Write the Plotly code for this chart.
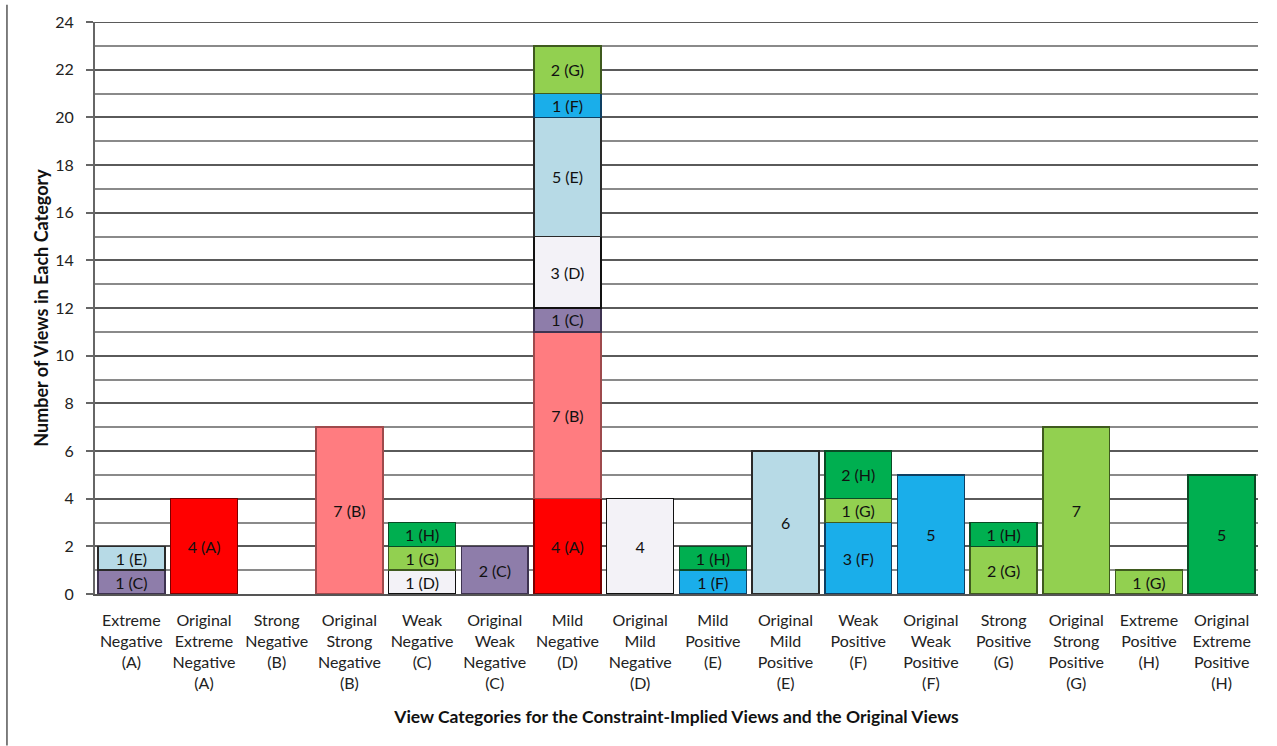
import plotly.graph_objects as go

# Category labels along the x axis (constraint-implied view next to the original view)
categories = [
    "Extreme<br>Negative<br>(A)", "Original<br>Extreme<br>Negative<br>(A)",
    "Strong<br>Negative<br>(B)", "Original<br>Strong<br>Negative<br>(B)",
    "Weak<br>Negative<br>(C)", "Original<br>Weak<br>Negative<br>(C)",
    "Mild<br>Negative<br>(D)", "Original<br>Mild<br>Negative<br>(D)",
    "Mild<br>Positive<br>(E)", "Original<br>Mild<br>Positive<br>(E)",
    "Weak<br>Positive<br>(F)", "Original<br>Weak<br>Positive<br>(F)",
    "Strong<br>Positive<br>(G)", "Original<br>Strong<br>Positive<br>(G)",
    "Extreme<br>Positive<br>(H)", "Original<br>Extreme<br>Positive<br>(H)",
]

# Number of views per source category (stacked bottom to top A..H)
views_A = [0, 4, 0, 0, 0, 0, 4, 0, 0, 0, 0, 0, 0, 0, 0, 0]
views_B = [0, 0, 0, 7, 0, 0, 7, 0, 0, 0, 0, 0, 0, 0, 0, 0]
views_C = [1, 0, 0, 0, 0, 2, 1, 0, 0, 0, 0, 0, 0, 0, 0, 0]
views_D = [0, 0, 0, 0, 1, 0, 3, 4, 0, 0, 0, 0, 0, 0, 0, 0]
views_E = [1, 0, 0, 0, 0, 0, 5, 0, 0, 6, 0, 0, 0, 0, 0, 0]
views_F = [0, 0, 0, 0, 0, 0, 1, 0, 1, 0, 3, 5, 0, 0, 0, 0]
views_G = [0, 0, 0, 0, 1, 0, 2, 0, 0, 0, 1, 0, 2, 7, 1, 0]
views_H = [0, 0, 0, 0, 1, 0, 0, 0, 1, 0, 2, 0, 1, 0, 0, 5]

series_letters = ["A", "B", "C", "D", "E", "F", "G", "H"]
series_values = [views_A, views_B, views_C, views_D, views_E, views_F, views_G, views_H]

# Bars whose label shows only the count, without the letter
count_only_bars = [7, 9, 11, 13, 15]

y_ticks = list(range(0, 25, 2))
y_max = 24

fill_colors = {
    "A": "#FF0000", "B": "#FF7C80", "C": "#8E7DAA", "D": "#F3F2F7",
    "E": "#B7DAE6", "F": "#1AAEEA", "G": "#92D050", "H": "#00AF50",
}
edge_colors = {
    "A": "#7A0000", "B": "#9E4A4C", "C": "#3E3350", "D": "#111111",
    "E": "#2A2A2A", "F": "#0E3F62", "G": "#3F5A1E", "H": "#0B4A25",
}

FONT = "Lato, Liberation Sans, sans-serif"

fig = go.Figure()
x_idx = list(range(len(categories)))
for letter, vals in zip(series_letters, series_values):
    texts = []
    for i, v in enumerate(vals):
        if v == 0:
            texts.append("")
        elif i in count_only_bars:
            texts.append(f"{v}")
        else:
            texts.append(f"{v} ({letter})")
    # empty segments are left out so no outline is drawn at zero
    ys = [v if v else None for v in vals]
    fig.add_trace(go.Bar(
        x=x_idx, y=ys, name=letter,
        marker=dict(color=fill_colors[letter],
                    line=dict(color=edge_colors[letter], width=1.5)),
        text=texts, textposition="inside", insidetextanchor="middle",
        textangle=0, constraintext="none",
        textfont=dict(family=FONT, size=16, color="#111111"),
        hoverinfo="skip",
    ))

# Top gridline at the axis maximum
fig.add_shape(type="line", xref="paper", yref="y",
              x0=-0.006, x1=1, y0=y_max, y1=y_max, layer="below",
              line=dict(color="#5A5A5A", width=2))

# Thin frame line along the left edge of the figure
fig.add_shape(type="line", xref="paper", yref="paper",
              x0=-0.0757, x1=-0.0757, y0=1.03, y1=-0.265,
              line=dict(color="#555555", width=1.5))

fig.update_layout(
    width=1277, height=746,
    barmode="stack", bargap=0.08,
    showlegend=False,
    paper_bgcolor="white", plot_bgcolor="white",
    margin=dict(l=95, r=19, t=22, b=152),
    font=dict(family=FONT, color="#111111"),
)
fig.update_xaxes(
    tickmode="array", tickvals=x_idx, ticktext=categories,
    range=[-0.5, len(categories) - 0.5],
    tickfont=dict(size=16, color="#222222"),
    ticklabelstandoff=11,
    showline=True, linecolor="#555555", linewidth=2,
    ticks="", showgrid=False,
    title=dict(text="<b>View Categories for the Constraint-Implied Views and the Original Views</b>",
               font=dict(size=17.5, color="#111111"), standoff=20),
)
fig.update_yaxes(
    range=[0, y_max], tickvals=y_ticks,
    tickfont=dict(size=16, color="#222222"),
    ticklabelstandoff=9,
    showline=True, linecolor="#666666", linewidth=2,
    ticks="outside", ticklen=7, tickcolor="#666666", tickwidth=2,
    showgrid=True, gridcolor="#5A5A5A", gridwidth=1.5,
    minor=dict(dtick=1, showgrid=True, gridcolor="#8A8A8A", gridwidth=1.5),
    zeroline=False,
    title=dict(text="<b>Number of Views in Each Category</b>",
               font=dict(size=18, color="#111111"), standoff=2),
)

fig.write_html("out.html")
